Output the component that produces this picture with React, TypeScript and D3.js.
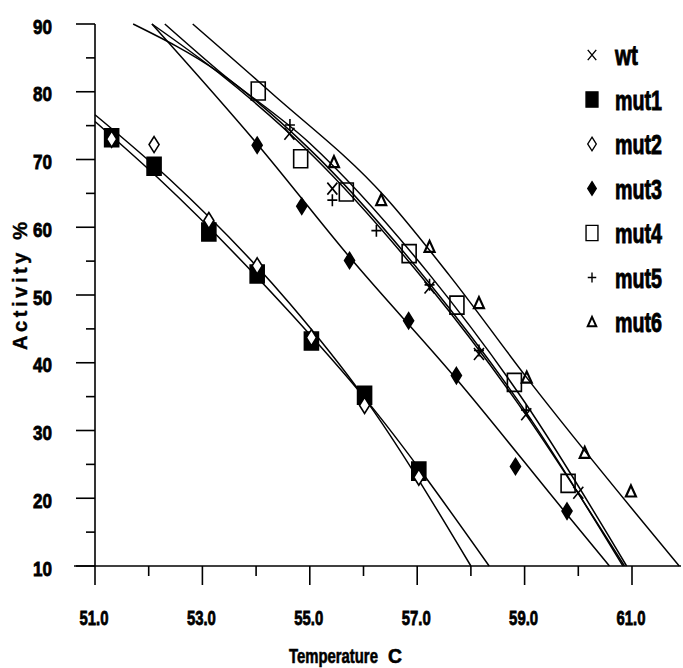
import { useEffect, useRef } from 'react';
import * as d3 from 'd3';

// measured points (temperature C, activity %)
const wtT = [54.62, 55.42, 57.23, 58.15, 59.03, 60.0];
const wtA = [73.8, 65.7, 51.1, 41.3, 32.4, 20.8];
const mut1T = [51.31, 52.1, 53.12, 54.02, 55.03, 56.02, 57.03];
const mut1A = [73.2, 69.0, 59.3, 53.1, 43.2, 35.2, 24.0];
const mut2T = [51.31, 52.1, 53.12, 54.02, 55.03, 56.02, 57.03];
const mut2A = [73.0, 72.2, 61.0, 54.3, 43.7, 33.7, 23.1];
const mut3T = [54.02, 54.85, 55.74, 56.84, 57.73, 58.83, 59.79];
const mut3A = [72.1, 63.1, 55.1, 46.2, 38.1, 24.7, 18.1];
const mut4T = [54.04, 54.83, 55.68, 56.85, 57.74, 58.81, 59.81];
const mut4A = [80.1, 70.1, 65.2, 56.1, 48.5, 37.1, 22.2];
const mut5T = [54.63, 55.42, 56.24, 57.23, 58.15, 59.03];
const mut5A = [75.1, 64.0, 59.5, 51.5, 41.8, 33.0];
const mut6T = [55.45, 56.33, 57.23, 58.15, 59.04, 60.12, 60.98];
const mut6A = [69.6, 64.0, 57.1, 48.8, 37.8, 26.7, 21.0];

// fitted curves
const wtFitT = [51.71, 53.3, 55.0, 57.2, 59.0, 60.83];
const wtFitA = [90, 82.9, 71.5, 52.0, 33.0, 10];
const mut1FitT = [51.0, 52.21, 54.63, 56.0, 58.34];
const mut1FitA = [75.6, 67.0, 47.4, 35.0, 10];
const mut2FitT = [51.0, 52.4, 54.63, 56.0, 58.0];
const mut2FitA = [76.6, 67.0, 48.7, 35.0, 10];
const mut3FitT = [52.06, 54.02, 55.74, 57.73, 59.79, 60.58];
const mut3FitA = [90, 72.3, 55.6, 37.6, 17.6, 10];
const mut4FitT = [52.3, 53.3, 55.0, 57.2, 59.0, 60.9];
const mut4FitA = [90, 83.1, 72.4, 53.3, 34.2, 10];
const mut5FitT = [52.06, 53.3, 55.0, 57.2, 59.0, 60.86];
const mut5FitA = [90, 82.8, 71.0, 51.5, 32.6, 10];
const mut6FitT = [52.82, 54.26, 56.4, 57.6, 59.04, 61.88];
const mut6FitA = [90, 80, 64.5, 52.9, 37.8, 10];

const xTicks = [51, 53, 55, 57, 59, 61];
const xMinor = [52, 54, 56, 58, 60];
const yTicks = [10, 20, 30, 40, 50, 60, 70, 80, 90];
const yMinor = [15, 25, 35, 45, 55, 65, 75, 85];

const seriesNames = ['wt', 'mut1', 'mut2', 'mut3', 'mut4', 'mut5', 'mut6'];

const FONT = "'Liberation Sans', Arial, sans-serif";

const App = () => {
  const svgRef = useRef<SVGSVGElement | null>(null);

  useEffect(() => {
    const svg = d3.select(svgRef.current);
    svg.selectAll('*').remove();

    const x = d3.scaleLinear().domain([51, 61]).range([95, 632]);
    const y = d3.scaleLinear().domain([10, 90]).range([566, 24]);

    const zip = (t: number[], a: number[]) => t.map((v, i) => [v, a[i]] as [number, number]);

    // condensed bold text: measure, then squeeze horizontally to the width seen in the scan
    const txt = svg.append('g').attr('font-family', FONT).attr('font-weight', 'bold')
      .attr('fill', '#000').attr('stroke', '#000');
    const fitText = (s: string, px: number, py: number, w: number, size: number, anchor: string, sw = 0.8) => {
      const t = txt.append('text').attr('font-size', size).attr('stroke-width', sw).text(s);
      const nat = (t.node() as SVGTextElement).getComputedTextLength() || w;
      const x0 = anchor === 'middle' ? px - w / 2 : anchor === 'end' ? px - w : px;
      t.attr('transform', `translate(${x0},${py}) scale(${w / nat},1)`);
    };

    // axes
    const ax = svg.append('g').attr('stroke', '#000').attr('stroke-width', 1.6);
    ax.append('line').attr('x1', 74).attr('x2', 681).attr('y1', y(10)).attr('y2', y(10));
    ax.append('line').attr('x1', x(51)).attr('x2', x(51)).attr('y1', y(90)).attr('y2', y(10));
    xTicks.forEach(t => ax.append('line').attr('x1', x(t)).attr('x2', x(t)).attr('y1', y(10)).attr('y2', y(10) + 19));
    xMinor.forEach(t => ax.append('line').attr('x1', x(t)).attr('x2', x(t)).attr('y1', y(10)).attr('y2', y(10) + 10));
    yTicks.forEach(t => ax.append('line').attr('x1', x(51) - 19).attr('x2', x(51)).attr('y1', y(t)).attr('y2', y(t)));
    yMinor.forEach(t => ax.append('line').attr('x1', x(51) - 9).attr('x2', x(51)).attr('y1', y(t)).attr('y2', y(t)));

    xTicks.forEach(t => fitText(t.toFixed(1), x(t) - 1, 625, 29, 20.5, 'middle'));
    yTicks.forEach(t => fitText(String(t), 52, y(t) + 9.5, 19, 20.5, 'end'));
    fitText('Temperature', 289, 663, 89, 20, 'start', 0.6);
    fitText('C', 388, 663, 14, 20, 'start', 0.6);

    svg.append('text')
      .attr('transform', 'translate(27,350) rotate(-90)')
      .attr('font-family', FONT).attr('font-weight', 'bold')
      .attr('font-size', 20).attr('textLength', 128).attr('lengthAdjust', 'spacing')
      .attr('stroke', '#000').attr('stroke-width', 0.4)
      .text('Activity  %');

    // fitted curves
    const line = d3.line<[number, number]>()
      .x(d => x(d[0])).y(d => y(d[1]))
      .curve(d3.curveMonotoneX);
    const fits = [
      zip(mut1FitT, mut1FitA), zip(mut2FitT, mut2FitA), zip(mut3FitT, mut3FitA),
      zip(wtFitT, wtFitA), zip(mut5FitT, mut5FitA), zip(mut4FitT, mut4FitA), zip(mut6FitT, mut6FitA)
    ];
    svg.append('g').selectAll('path').data(fits).enter().append('path')
      .attr('d', d => line(d))
      .attr('fill', 'none').attr('stroke', '#000').attr('stroke-width', 1.5);

    // marker shapes
    const shape = (name: string, s: number) => {
      const w = 7 * s, h = 9 * s;
      switch (name) {
        case 'wt': return { d: `M${-5 * s},${-6 * s}L${5 * s},${6 * s}M${5 * s},${-6 * s}L${-5 * s},${6 * s}`, fill: 'none' };
        case 'mut1': return { d: `M${-w},${-h}h${2 * w}v${2 * h}h${-2 * w}Z`, fill: '#000' };
        case 'mut2': return { d: `M0,${-8 * s}L${5 * s},0L0,${8 * s}L${-5 * s},0Z`, fill: '#fff' };
        case 'mut3': return { d: `M0,${-8 * s}L${5 * s},0L0,${8 * s}L${-5 * s},0Z`, fill: '#000' };
        case 'mut4': return { d: `M${-w},${-h}h${2 * w}v${2 * h}h${-2 * w}Z`, fill: 'none' };
        case 'mut5': return { d: `M${-5 * s},0H${5 * s}M0,${-6 * s}V${6 * s}`, fill: 'none' };
        default: return { d: `M0,${-6 * s}L${5 * s},${5 * s}H${-5 * s}Z`, fill: 'none' };
      }
    };

    const pts: Record<string, [number, number][]> = {
      mut1: zip(mut1T, mut1A), mut2: zip(mut2T, mut2A), mut3: zip(mut3T, mut3A),
      mut4: zip(mut4T, mut4A), mut6: zip(mut6T, mut6A), wt: zip(wtT, wtA), mut5: zip(mut5T, mut5A)
    };
    const mk = svg.append('g').attr('stroke', '#000').attr('stroke-width', 1.6);
    Object.keys(pts).forEach(name => {
      const sh = shape(name, 1);
      mk.selectAll(null).data(pts[name]).enter().append('path')
        .attr('transform', d => `translate(${x(d[0])},${y(d[1])})`)
        .attr('d', sh.d).attr('fill', sh.fill)
        .attr('stroke-width', name === 'mut6' ? 2.2 : 1.6);
    });

    // legend
    const rowY = d3.scalePoint().domain(seriesNames).range([55, 322]);
    seriesNames.forEach(name => {
      const sh = shape(name, 0.85);
      svg.append('path')
        .attr('transform', `translate(592,${rowY(name)})`)
        .attr('d', sh.d).attr('fill', sh.fill)
        .attr('stroke', '#000').attr('stroke-width', name === 'mut6' ? 2 : 1.4);
      fitText(name, 615, (rowY(name) as number) + 10, name === 'wt' ? 23 : 47, 27, 'start', 0.9);
    });
  }, []);

  return (
    <svg ref={svgRef} width={683} height={668}
      style={{ position: 'absolute', left: 0, top: 0, background: '#fff' }} />
  );
};

export default App;
